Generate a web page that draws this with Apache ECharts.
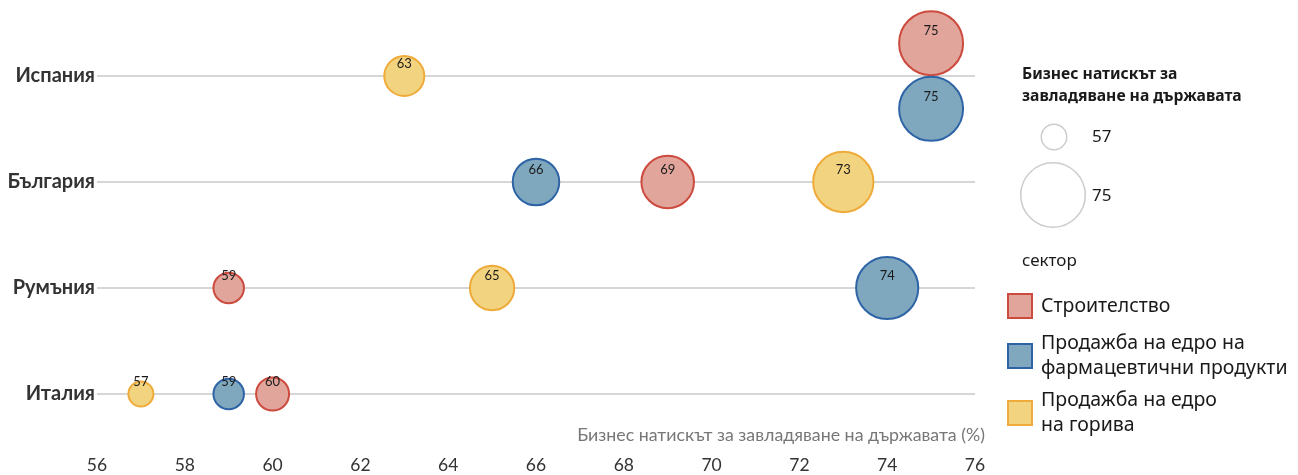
<!DOCTYPE html>
<html>
<head>
<meta charset="utf-8">
<script src="https://cdn.jsdelivr.net/npm/echarts@6/dist/echarts.min.js"></script>
<style>
html,body{margin:0;padding:0;background:#fff;}
#chart{width:1298px;height:475px;}
</style>
</head>
<body>
<div id="chart"></div>
<script>
// ---- data ----
const categories = ['Италия', 'Румъния', 'България', 'Испания']; // bottom -> top
const sectors = ['Строителство', 'Продажба на едро на фармацевтични продукти', 'Продажба на едро на горива'];
const construction = [60, 59, 69, 75];
const pharma = [59, 74, 66, 75];
const fuel = [57, 65, 73, 63];
const xTicks = [56, 58, 60, 62, 64, 66, 68, 70, 72, 74, 76];
const sizeLegendValues = [57, 75];
const axisTitle = 'Бизнес натискът за завладяване на държавата (%)';
const sizeTitle = 'Бизнес натискът за\nзавладяване на държавата';
const sectorTitle = 'сектор';

// ---- styling ----
const fills = ['#e2a59b', '#7fa8bf', '#f2d37f'];
const borders = ['#cc4a3e', '#2e64a6', '#efab3a'];
const legendNames = ['Строителство', 'Продажба на едро на\nфармацевтични продукти', 'Продажба на едро\nна горива'];
// Spain's two identical values are dodged vertically
const dodge = [
  {3: 0.31},
  {3: -0.31},
  {}
];
// bubble outer diameter for a value (size scale)
const V0 = 57, V1 = 75, D0 = 27, D1 = 66;
function diam(v) {
  const t = (v - V0) / (V1 - V0);
  const lin = D0 + t * (D1 - D0);
  const area = Math.sqrt(D0 * D0 + t * (D1 * D1 - D0 * D0));
  return (lin + area) / 2;
}

const seriesValues = [construction, pharma, fuel];
const series = seriesValues.map((vals, si) => ({
  name: sectors[si],
  type: 'scatter',
  clip: false,
  z: 3,
  data: vals.map((v, ci) => [v, ci + (dodge[si][ci] || 0)]),
  symbolSize: d => diam(d[0]) - 2,
  itemStyle: {color: fills[si], borderColor: borders[si], borderWidth: 2, opacity: 1},
  label: {
    show: true, position: 'inside', offset: [0, -12],
    formatter: p => p.value[0],
    fontFamily: 'Lato', fontSize: 13, color: '#1a1a1a'
  },
  emphasis: {disabled: true}
}));

const legendTops = [293, 331, 388];
const legends = sectors.map((s, i) => ({
  left: 1007, top: legendTops[i], orient: 'vertical', padding: 0,
  icon: 'rect', itemWidth: 24, itemHeight: 24, selectedMode: false,
  data: [{name: s, itemStyle: {color: fills[i], borderColor: borders[i], borderWidth: 2}}],
  formatter: () => legendNames[i],
  textStyle: {fontFamily: 'Noto Sans', fontSize: 19.5, color: '#1a1a1a', lineHeight: 25, padding: [0, 0, 0, 4]}
}));

const chart = echarts.init(document.getElementById('chart'), null, {renderer: 'canvas'});
const grid = {left: 97, right: 323, top: 76, bottom: 81};

chart.setOption({
  animation: false,
  backgroundColor: '#fff',
  grid: grid,
  xAxis: {
    type: 'value', min: 56, max: 76, interval: 2,
    axisLine: {show: false}, axisTick: {show: false}, splitLine: {show: false},
    axisLabel: {margin: 62, fontFamily: 'Lato', fontSize: 17.5, color: '#333',
      formatter: v => xTicks.includes(v) ? String(v) : ''}
  },
  yAxis: {
    type: 'value', min: 0, max: 3, interval: 1,
    axisLine: {show: false}, axisTick: {show: false},
    splitLine: {show: true, lineStyle: {color: '#c8c8c8', width: 1.5}},
    axisLabel: {margin: 2, fontFamily: 'Lato', fontWeight: 'bold', fontSize: 20, color: '#333',
      formatter: v => categories[v] || ''}
  },
  legend: legends,
  series: series,
  graphic: [
    {type: 'text', x: 985, y: 435, style: {text: axisTitle, font: '17.8px Lato', fill: '#777', align: 'right', verticalAlign: 'middle'}},
    {type: 'text', left: 1022, top: 64, style: {text: sizeTitle, font: 'bold 15.7px "Noto Sans"', fill: '#1a1a1a', lineHeight: 22}},
    {type: 'circle', shape: {cx: 1054, cy: 137, r: (diam(sizeLegendValues[0]) - 1.5) / 2}, style: {fill: 'none', stroke: '#cccccc', lineWidth: 1.5}},
    {type: 'circle', shape: {cx: 1053, cy: 195, r: (diam(sizeLegendValues[1]) - 1.5) / 2}, style: {fill: 'none', stroke: '#cccccc', lineWidth: 1.5}},
    {type: 'text', x: 1092, y: 137, style: {text: String(sizeLegendValues[0]), font: '17px "Noto Sans"', fill: '#1a1a1a', verticalAlign: 'middle'}},
    {type: 'text', x: 1092, y: 196, style: {text: String(sizeLegendValues[1]), font: '17px "Noto Sans"', fill: '#1a1a1a', verticalAlign: 'middle'}},
    {type: 'text', x: 1022, y: 261, style: {text: sectorTitle, font: '17px "Noto Sans"', fill: '#1a1a1a', verticalAlign: 'middle'}}
  ]
});
</script>
</body>
</html>
